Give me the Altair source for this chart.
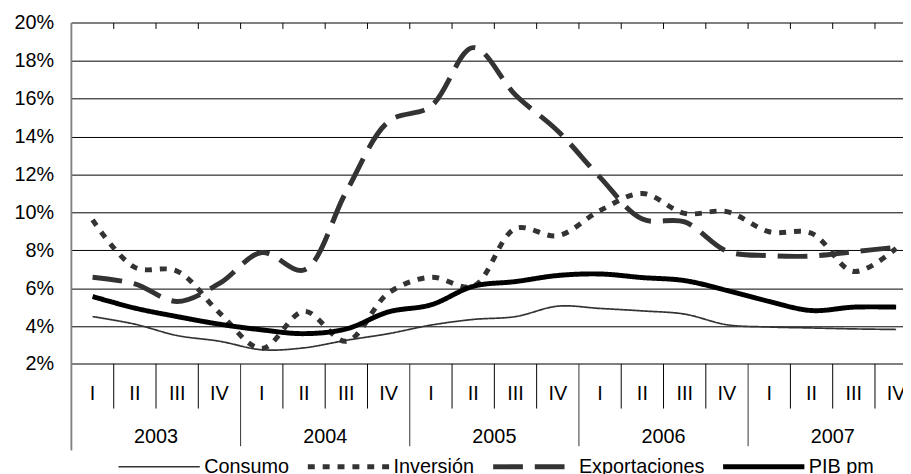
import altair as alt
import pandas as pd

# ---- data ----
trimestres = ["I", "II", "III", "IV"] * 5
anios = ["2003", "2004", "2005", "2006", "2007"]
series = ["Consumo", "Inversión", "Exportaciones", "PIB pm"]

consumo = [4.5, 4.1, 3.5, 3.2, 2.75, 2.85, 3.25, 3.6, 4.05, 4.35,
           4.5, 5.05, 4.93, 4.8, 4.63, 4.07, 3.95, 3.9, 3.85, 3.82]
inversion = [9.6, 7.1, 6.9, 4.7, 2.82, 4.78, 3.2, 5.75, 6.58, 6.1,
             9.15, 8.77, 10.1, 11.0, 9.95, 10.04, 8.98, 8.9, 6.88, 8.1]
exportaciones = [6.58, 6.23, 5.3, 6.25, 7.88, 6.96, 11.1, 14.8, 15.6, 18.7,
                 16.2, 14.3, 11.85, 9.65, 9.5, 7.95, 7.72, 7.7, 7.93, 8.16]
pib = [5.56, 4.95, 4.5, 4.1, 3.8, 3.6, 3.85, 4.75, 5.12, 6.1,
       6.35, 6.67, 6.75, 6.56, 6.4, 5.88, 5.3, 4.82, 5.0, 5.0]

y_ticks = list(range(2, 21, 2))

# ---- tables ----
rows = []
for name, vals in zip(series, [consumo, inversion, exportaciones, pib]):
    for i, v in enumerate(vals):
        rows.append({"serie": name, "q": i + 0.5, "valor": v})
df = pd.DataFrame(rows)

df_q = pd.DataFrame({"q": [i + 0.5 for i in range(len(trimestres))], "lab": trimestres})
df_y = pd.DataFrame({"q": [4 * k + 2 for k in range(len(anios))], "lab": anios})
n = len(trimestres)
df_bq = pd.DataFrame({"b": [b for b in range(1, n) if b % 4 != 0]})
df_by = pd.DataFrame({"b": [b for b in range(1, n) if b % 4 == 0]})
df_ball = pd.DataFrame({"b": list(range(1, n))})
df_h = pd.DataFrame({"v": [2, 20]})

# ---- layout ----
W, H = 839, 344
UNIT = 42.67
XMAX = W / UNIT
FONT = "Liberation Sans"

xs = alt.Scale(domain=[0, XMAX], nice=False, zero=False)
ys = alt.Scale(domain=[2, 20], nice=False, zero=False)

y_axis = alt.Axis(values=y_ticks, labelExpr="datum.value + '%'", grid=True,
                  gridColor="#000", gridWidth=1, domain=False, ticks=False,
                  labelOverlap=False, labelPadding=18, labelFontSize=20, labelFont=FONT,
                  labelColor="#000", title=None)

lines = alt.Chart(df).mark_line(interpolate="catmull-rom").encode(
    x=alt.X("q:Q", scale=xs, axis=None),
    y=alt.Y("valor:Q", scale=ys, axis=y_axis),
    color=alt.Color("serie:N", sort=series,
                    scale=alt.Scale(domain=series, range=["#333333", "#333333", "#333333", "#000000"]),
                    legend=alt.Legend(orient="none", legendX=45, legendY=404,
                                      direction="horizontal", title=None,
                                      symbolType="stroke", symbolSize=82 * 82,
                                      symbolStrokeWidth=alt.ExprRef("(datum.value == 'Consumo' ? 1.7 : 5)"),
                                      labelFontSize=20, labelFont=FONT, labelColor="#000",
                                      labelOffset=2, columnPadding=8, padding=0)),
    strokeDash=alt.StrokeDash("serie:N", sort=series,
                              scale=alt.Scale(domain=series, range=[[1, 0], [7, 8], [30, 12], [1, 0]])),
    strokeWidth=alt.condition("datum.serie == 'Consumo'", alt.value(1.7), alt.value(5)),
    order=alt.Order("q:Q"),
)

hlines = alt.Chart(df_h).mark_rule(color="#808080", strokeWidth=2).encode(
    y=alt.Y("v:Q", scale=ys, axis=y_axis)
)

top_ticks = alt.Chart(df_ball).mark_rule(color="#000", strokeWidth=1).encode(
    x=alt.X("b:Q", scale=xs, axis=None), y=alt.value(0), y2=alt.value(6)
)
q_div = alt.Chart(df_bq).mark_rule(color="#000", strokeWidth=1).encode(
    x=alt.X("b:Q", scale=xs, axis=None), y=alt.value(H), y2=alt.value(389)
)
y_div = alt.Chart(df_by).mark_rule(color="#333", strokeWidth=1).encode(
    x=alt.X("b:Q", scale=xs, axis=None), y=alt.value(H), y2=alt.value(427)
)
left_line = alt.Chart(df_h).mark_rule(color="#808080", strokeWidth=1.5).encode(
    x=alt.value(0), y=alt.value(0), y2=alt.value(431)
)
q_lab = alt.Chart(df_q).mark_text(fontSize=20, font=FONT, color="#000",
                                  baseline="middle", align="center").encode(
    x=alt.X("q:Q", scale=xs, axis=None), y=alt.value(374), text="lab:N"
)
y_lab = alt.Chart(df_y).mark_text(fontSize=20, font=FONT, color="#000",
                                  baseline="middle", align="center").encode(
    x=alt.X("q:Q", scale=xs, axis=None), y=alt.value(418), text="lab:N"
)

chart = alt.layer(lines, hlines, top_ticks, q_div, y_div, left_line, q_lab, y_lab).properties(
    width=W, height=H,
    autosize=alt.AutoSizeParams(type="none"),
    padding={"left": 64, "top": 13, "right": 0, "bottom": 120},
    background="white",
).configure_view(stroke=None)

chart.save("out.html", embed_options={"renderer": "svg", "actions": False})
